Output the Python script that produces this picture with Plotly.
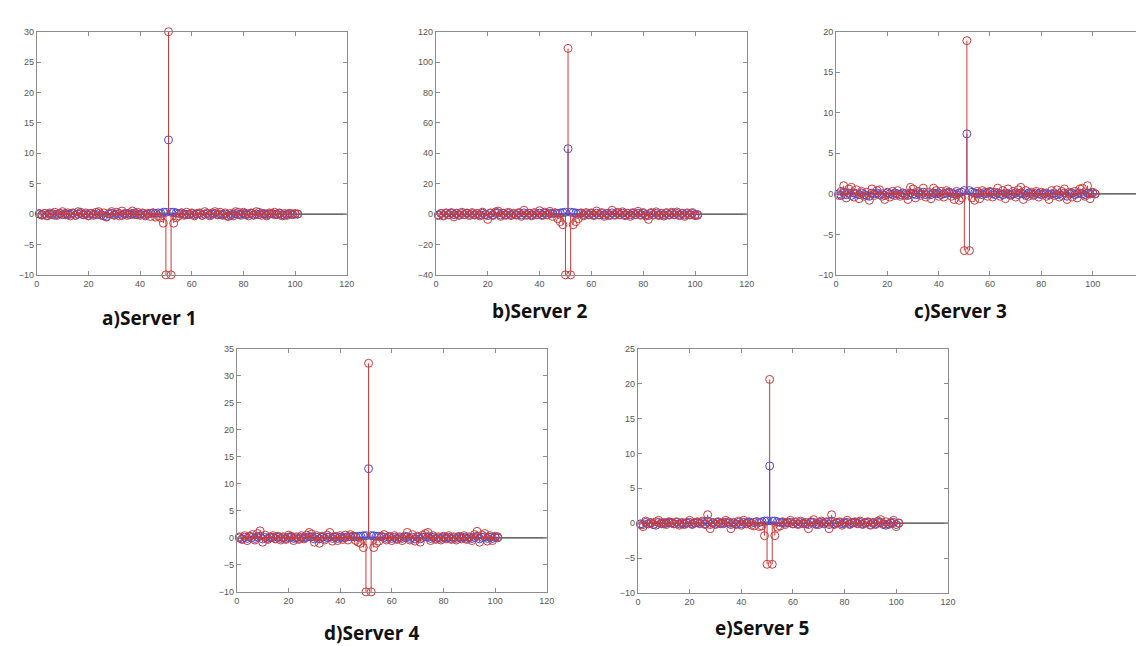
import plotly.graph_objects as go

# ---------------- data ----------------
x_idx = list(range(1, 102))
x_ticks = [0, 20, 40, 60, 80, 100, 120]

titles = ["a)Server 1", "b)Server 2", "c)Server 3", "d)Server 4", "e)Server 5"]

y_ticks_a = [-10, -5, 0, 5, 10, 15, 20, 25, 30]
y_ticks_b = [-40, -20, 0, 20, 40, 60, 80, 100, 120]
y_ticks_c = [-10, -5, 0, 5, 10, 15, 20]
y_ticks_d = [-10, -5, 0, 5, 10, 15, 20, 25, 30, 35]
y_ticks_e = [-10, -5, 0, 5, 10, 15, 20, 25]

red_a = [0.1, -0.2, 0.1, -0.3, 0.2, -0.1, 0.3, -0.2, 0.1, 0.4,
         -0.1, 0.2, -0.3, 0.1, -0.2, 0.4, 0.3, -0.1, 0.2, -0.3,
         0.1, -0.2, 0.3, 0.4, -0.1, 0.2, -0.5, 0.1, 0.4, -0.2,
         0.3, -0.3, 0.5, 0.1, -0.2, 0.2, 0.5, -0.1, 0.3, -0.2,
         0.2, -0.3, 0.1, -0.4, 0.2, -0.5, -0.3, -0.6, -1.5, -10,
         30,
         -10, -1.5, -0.6, -0.3, 0.2, -0.2, 0.3, -0.1, 0.2,
         -0.3, 0.1, 0.2, -0.2, 0.4, 0.1, -0.3, 0.2, 0.4, -0.1,
         0.3, -0.2, 0.2, -0.4, 0.1, -0.3, 0.4, 0.3, -0.2, 0.3,
         0.1, -0.3, 0.2, -0.1, 0.4, 0.3, -0.2, 0.1, -0.3, 0.2,
         0.1, 0.3, -0.1, 0.2, -0.3, 0.1, -0.2, 0.1, 0.0, 0.1, 0.0]
blue_a = [0.0, -0.1, 0.1, -0.2, 0.0, 0.1, -0.2, 0.0, 0.1, -0.1,
          0.1, -0.1, 0.0, 0.2, -0.2, 0.0, 0.1, -0.1, 0.0, -0.2,
          0.1, 0.0, -0.1, 0.1, -0.2, -0.3, -0.4, 0.0, 0.1, -0.1,
          0.0, 0.1, -0.2, 0.0, 0.1, -0.1, 0.0, 0.2, -0.1, 0.0,
          0.1, -0.1, 0.0, 0.1, 0.2, 0.1, 0.2, 0.1, 0.3, 0.3,
          12.2,
          0.3, 0.3, 0.2, 0.1, 0.2, 0.0, -0.1, 0.0, 0.1,
          -0.1, 0.0, 0.1, -0.2, 0.0, 0.1, -0.1, 0.0, 0.1, -0.1,
          0.0, -0.1, 0.0, -0.3, -0.2, 0.0, 0.1, -0.1, 0.0, 0.1,
          -0.1, 0.0, 0.1, -0.2, 0.0, -0.1, 0.1, 0.0, -0.1, 0.0,
          0.1, -0.1, 0.0, 0.1, -0.1, -0.2, 0.0, 0.1, -0.1, 0.0, 0.0]

red_b = [-1.0, 0.5, -1.2, 0.8, -0.5, 1.0, -1.8, 0.6, -0.8, 1.2,
         -0.4, 0.7, -1.0, 1.0, -0.6, 0.4, -1.2, 1.3, -0.5, -3.5,
         0.8, -1.0, 1.4, 2.0, -1.5, 0.6, -0.8, 1.2, -1.0, 0.5,
         -0.7, 1.0, -1.5, 2.5, -0.8, 0.6, -1.2, 1.0, -0.5, 2.2,
         -1.0, 1.3, -0.6, 1.8, -1.5, 0.8, -3.0, -5.0, -7.0, -40,
         109,
         -40, -7.0, -5.0, -3.0, 0.8, -1.2, 1.0, -0.5, 0.8,
         -1.0, 2.0, -0.6, 1.0, -1.5, 0.5, -1.0, 2.5, -0.8, 1.2,
         -0.5, 1.5, -1.0, 0.6, -1.5, 1.0, -0.4, 1.8, -0.8, 1.0,
         -1.2, -3.5, 1.0, -0.6, 1.5, -1.0, 0.5, -1.3, 1.0, -0.7,
         1.2, -0.5, 1.4, -1.0, 0.6, -1.5, 0.8, -0.6, 1.0, -1.0, -0.8]
blue_b = [-0.5, 0.3, -0.8, 0.5, -0.2, 0.6, -0.4, 0.2, -0.6, 0.4,
          -0.3, 0.5, -0.2, 0.3, -0.5, 0.2, -0.4, 0.6, -0.3, -1.0,
          0.4, -0.5, 0.6, 0.8, -0.6, 0.3, -0.4, 0.5, -0.3, 0.2,
          -0.4, 0.5, -0.6, 0.8, -0.3, 0.4, -0.5, 0.3, -0.2, 0.6,
          -0.4, 0.5, -0.2, 0.6, 0.3, 0.8, 0.5, 0.8, 1.0, 1.2,
          43,
          1.2, 1.0, 0.8, 0.5, 0.6, -0.4, 0.3, -0.2, 0.4,
          -0.5, 0.6, -0.3, 0.4, -0.6, 0.2, -0.4, 0.8, -0.3, 0.5,
          -0.2, 0.6, -0.4, 0.3, -0.5, 0.4, -0.2, 0.6, -0.3, 0.4,
          -0.5, -1.0, 0.4, -0.3, 0.5, -0.4, 0.2, -0.5, 0.4, -0.3,
          0.5, -0.2, 0.4, -0.4, 0.3, -0.6, 0.3, -0.2, 0.4, -0.4, -0.3]

red_c = [-0.2, 0.3, 1.0, -0.5, 0.6, 0.8, -0.4, 0.5, -0.6, 0.3,
         -0.3, 0.2, -0.8, 0.6, -0.2, 0.4, 0.5, -0.3, -0.7, 0.2,
         -0.4, 0.3, -0.2, 0.4, -0.3, 0.1, -0.2, -0.7, 0.8, 0.6,
         -0.5, 0.3, -0.2, 0.7, -0.4, 0.2, -0.6, 0.7, 0.4, -0.3,
         0.3, -0.4, 0.4, 0.2, -0.3, -0.7, 0.3, -0.8, -0.5, -7.0,
         18.9,
         -7.0, -0.5, -0.8, 0.3, -0.6, 0.4, 0.2, -0.3, 0.3,
         -0.4, 0.2, 0.7, -0.3, 0.4, -0.6, 0.6, -0.2, 0.3, -0.4,
         0.5, 0.8, -0.7, 0.4, -0.3, 0.2, -0.2, 0.3, -0.4, 0.2,
         0.1, -0.3, -0.7, 0.4, -0.2, 0.5, -0.4, 0.3, 0.6, -0.7,
         0.2, -0.4, 0.3, -0.5, 0.6, 0.7, -0.3, 1.0, -0.6, 0.2, 0.0]
blue_c = [0.0, -0.2, 0.2, -0.1, 0.1, -0.2, 0.1, 0.0, -0.1, 0.1,
          -0.1, -0.2, -0.3, 0.1, 0.0, 0.1, -0.1, 0.0, -0.2, 0.1,
          0.0, -0.1, 0.1, 0.0, -0.1, 0.1, 0.0, -0.2, 0.1, 0.0,
          -0.1, 0.1, 0.0, 0.2, -0.1, 0.0, -0.1, 0.1, 0.0, 0.1,
          -0.1, 0.0, 0.1, 0.2, 0.1, 0.0, -0.1, 0.1, 0.2, 0.4,
          7.4,
          0.4, 0.2, 0.1, 0.0, 0.1, -0.1, 0.0, 0.1, 0.2,
          0.0, -0.1, 0.1, 0.0, -0.1, 0.1, 0.0, -0.1, 0.0, 0.1,
          -0.1, 0.1, 0.0, -0.2, 0.1, 0.0, -0.1, 0.1, 0.0, -0.1,
          0.0, 0.1, -0.1, 0.0, 0.1, -0.1, 0.0, -0.2, 0.1, -0.3,
          0.0, 0.1, -0.1, 0.0, 0.1, 0.0, -0.1, 0.1, 0.0, 0.1, 0.0]

red_d = [0.2, -0.3, 0.4, -0.5, 0.3, 0.6, -0.4, 0.8, 1.3, -0.8,
         0.5, -0.3, 0.2, 0.4, -0.2, 0.3, -0.4, 0.2, -0.3, 0.5,
         0.3, -0.5, 0.2, -0.3, 0.4, -0.2, 0.5, 1.0, 0.7, -0.8,
         0.4, -1.0, 0.3, -0.4, 0.5, 1.0, -0.6, 0.3, -0.5, 0.4,
         -0.3, 0.5, -0.4, 0.6, 0.3, -0.5, -0.8, -1.0, -1.8, -10,
         32.3,
         -10, -1.8, -1.0, -0.6, 0.3, 0.6, -0.4, 0.3, -0.5,
         0.4, -0.3, 0.2, -0.5, 0.3, 1.0, -0.4, 0.6, -0.6, 0.3,
         -0.8, 0.5, 0.8, 1.0, -0.5, 0.4, -0.3, 0.2, -0.4, 0.3,
         -0.2, 0.4, -0.3, 0.2, -0.4, 0.3, -0.2, 0.4, -0.3, 0.2,
         -0.5, 0.6, 1.2, -0.8, 0.5, 0.8, -0.6, 0.4, -0.5, 0.3, 0.2]
blue_d = [0.0, -0.2, 0.1, -0.1, 0.2, 0.1, -0.1, 0.2, 0.3, -0.2,
          0.1, -0.1, 0.0, 0.1, -0.1, 0.1, -0.1, 0.0, -0.1, 0.1,
          0.1, -0.1, 0.0, -0.1, 0.1, 0.0, 0.1, 0.2, 0.2, -0.2,
          0.1, -0.2, 0.1, -0.1, 0.1, 0.2, -0.1, 0.1, -0.1, 0.1,
          0.0, 0.1, 0.2, 0.2, 0.3, 0.2, 0.3, 0.3, 0.4, 0.4,
          12.8,
          0.4, 0.4, 0.3, 0.3, 0.2, 0.1, -0.1, 0.1, -0.1,
          0.1, -0.1, 0.0, -0.1, 0.1, 0.2, -0.1, 0.1, -0.2, 0.1,
          -0.2, 0.1, 0.2, 0.2, -0.1, 0.1, -0.1, 0.0, -0.1, 0.1,
          0.0, 0.1, -0.1, 0.0, -0.1, 0.1, 0.0, 0.1, -0.1, 0.0,
          -0.1, 0.1, 0.3, -0.2, 0.1, 0.2, -0.1, 0.1, -0.1, 0.1, 0.0]

red_e = [-0.2, -0.5, 0.3, -0.1, 0.1, -0.2, 0.2, 0.4, -0.1, 0.1,
         -0.2, 0.2, 0.1, -0.1, 0.2, -0.3, 0.1, -0.2, 0.1, 0.4,
         -0.2, 0.1, 0.2, -0.1, 0.3, -0.2, 1.2, -0.8, 0.1, -0.2,
         0.2, -0.1, 0.1, 0.4, 0.2, -0.8, 0.1, -0.2, 0.3, -0.3,
         0.4, -0.1, 0.2, -0.3, -0.4, 0.2, -0.5, -0.4, -1.8, -5.9,
         20.6,
         -5.9, -1.8, -0.6, -0.4, 0.2, -0.2, 0.1, 0.4, -0.1,
         0.2, -0.2, 0.3, -0.1, 0.1, -0.8, 0.2, 0.5, -0.2, 0.1,
         0.3, -0.1, 0.2, -0.8, 1.2, -0.2, 0.1, 0.2, -0.3, 0.1,
         0.4, -0.2, 0.1, 0.2, -0.1, 0.3, -0.2, 0.1, 0.2, -0.3,
         0.1, -0.2, 0.3, 0.5, -0.1, 0.2, -0.2, 0.1, 0.4, -0.5, 0.0]
blue_e = [-0.1, -0.2, 0.1, -0.1, 0.0, -0.2, -0.3, 0.1, 0.0, -0.1,
          0.0, 0.1, 0.0, -0.1, 0.1, -0.1, 0.0, -0.1, 0.0, 0.1,
          -0.1, 0.0, 0.1, 0.0, 0.1, -0.1, 0.3, -0.2, 0.0, -0.1,
          0.1, 0.0, -0.1, 0.1, 0.0, -0.2, 0.0, -0.1, 0.1, -0.1,
          0.1, 0.0, 0.1, 0.0, 0.1, 0.2, 0.1, 0.2, 0.3, 0.3,
          8.2,
          0.3, 0.3, 0.2, 0.1, 0.1, 0.0, 0.1, 0.1, -0.1,
          0.1, -0.1, 0.1, 0.0, -0.1, -0.2, 0.1, 0.1, -0.1, -0.2,
          0.1, 0.0, 0.1, -0.2, 0.3, -0.1, 0.0, 0.1, -0.1, 0.0,
          0.1, -0.1, 0.0, 0.1, 0.0, 0.1, -0.1, 0.0, 0.1, -0.2,
          0.0, -0.1, 0.1, 0.1, -0.2, -0.3, -0.1, 0.0, 0.1, -0.2, 0.0]

# ---------------- layout (pixel boxes) ----------------
W, H = 1144, 646
panels = [
    # (red, blue, yticks, box left, right, top, bottom, label cx, cy)
    (red_a, blue_a, y_ticks_a, 26, 339, 19, 266, 140, 310),
    (red_b, blue_b, y_ticks_b, 429, 743, 19, 266, 534, 303),
    (red_c, blue_c, y_ticks_c, 833, 1144, 19, 266, 959, 303),
    (red_d, blue_d, y_ticks_d, 228, 541, 341, 588, 364, 630),
    (red_e, blue_e, y_ticks_e, 633, 946, 341, 589, 758, 625),
]

RED = "#cc3b3b"
BLUE = "#4a4ad0"
FRAME = "#8c8c8c"

fig = go.Figure()
layout_axes = {}
annotations = []


def stem_xy(xs, ys):
    sx, sy = [], []
    for xv, yv in zip(xs, ys):
        sx += [xv, xv, None]
        sy += [0, yv, None]
    return sx, sy


for i, (red, blue, yt, l, r, t, b, lx, ly) in enumerate(panels):
    n = i + 1
    xa = "x" if n == 1 else f"x{n}"
    ya = "y" if n == 1 else f"y{n}"
    # baseline
    fig.add_trace(go.Scatter(x=[x_ticks[0], x_ticks[-1]], y=[0, 0], mode="lines",
                             line=dict(color="#3a3a3a", width=1.2),
                             xaxis=xa, yaxis=ya, hoverinfo="skip"))
    for series, col in ((blue, BLUE), (red, RED)):
        sx, sy = stem_xy(x_idx, series)
        fig.add_trace(go.Scatter(x=sx, y=sy, mode="lines",
                                 line=dict(color=col, width=1),
                                 xaxis=xa, yaxis=ya, hoverinfo="skip"))
        fig.add_trace(go.Scatter(x=x_idx, y=series, mode="markers",
                                 marker=dict(symbol="circle-open", size=8,
                                             color=col, line=dict(width=1, color=col)),
                                 cliponaxis=False, xaxis=xa, yaxis=ya))
    axis_common = dict(showline=True, linecolor=FRAME, linewidth=1, mirror="ticks",
                       ticks="inside", ticklen=4, tickcolor=FRAME, showgrid=False,
                       zeroline=False, tickfont=dict(family="Liberation Sans", size=9, color="#555"),
                       ticklabeloverflow="allow")
    layout_axes["xaxis" if n == 1 else f"xaxis{n}"] = dict(
        domain=[l / W, r / W], range=[x_ticks[0], x_ticks[-1]], tickvals=x_ticks,
        anchor=ya, **axis_common)
    layout_axes["yaxis" if n == 1 else f"yaxis{n}"] = dict(
        domain=[1 - b / H, 1 - t / H], range=[yt[0], yt[-1]], tickvals=yt,
        anchor=xa, **axis_common)
    annotations.append(dict(text="<b>" + titles[i] + "</b>", x=lx / W, y=1 - ly / H,
                            xref="paper", yref="paper", showarrow=False,
                            xanchor="center", yanchor="middle",
                            font=dict(family="Open Sans", size=19, color="#111")))

fig.update_layout(width=W, height=H, margin=dict(l=0, r=0, t=0, b=0),
                  paper_bgcolor="white", plot_bgcolor="white", showlegend=False,
                  annotations=annotations, **layout_axes)

fig.write_html("out.html")
